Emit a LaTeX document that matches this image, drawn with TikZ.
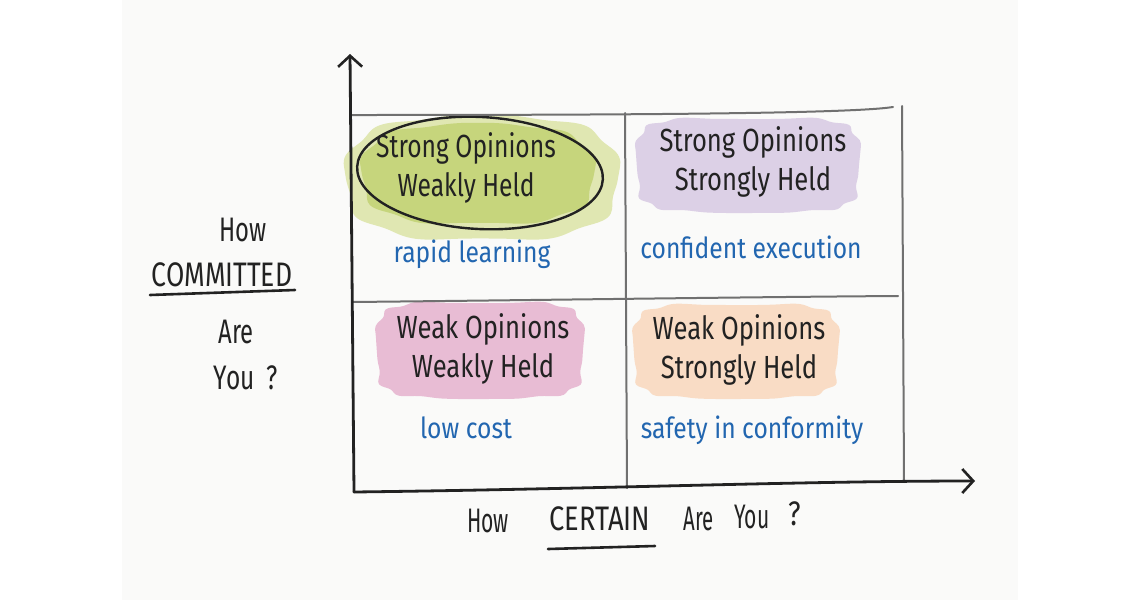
\documentclass[tikz,border=0pt]{standalone}
\usepackage{fontspec}
\setmainfont{Fira Sans}
\usepackage{graphicx}
\usetikzlibrary{arrows.meta}
\definecolor{paper}{HTML}{FAFAF9}
\definecolor{ink}{HTML}{222222}
\definecolor{bluetxt}{HTML}{2266B0}
\definecolor{gridgray}{HTML}{707070}
\definecolor{greencore}{HTML}{C6D57C}
\definecolor{greenhalo}{HTML}{E0E7B2}
\definecolor{purpleblob}{HTML}{DCD0E6}
\definecolor{pinkblob}{HTML}{E8BCD4}
\definecolor{peachblob}{HTML}{F9DCC5}
\newcommand{\hwtxt}[2]{\scalebox{#1}[1]{\begin{tabular}{@{}c@{}}#2\end{tabular}}}
\newcommand{\blobshape}{plot[domain=0:358, samples=90, smooth cycle] ({(1+0.022*sin(11*\x))*sign(cos(\x))*pow(abs(cos(\x)),0.42)}, {(1+0.022*sin(11*\x))*sign(sin(\x))*pow(abs(sin(\x)),0.42)})}
\newcommand{\roundblob}{plot[domain=0:358, samples=90, smooth cycle] ({(1+0.025*sin(9*\x))*sign(cos(\x))*pow(abs(cos(\x)),0.7)}, {(1+0.025*sin(9*\x))*sign(sin(\x))*pow(abs(sin(\x)),0.7)})}
\begin{document}
\begin{tikzpicture}[x=1pt,y=-1pt,
  axis/.style={line width=2.8pt, draw=ink, line cap=round, line join=round},
  gridline/.style={line width=2pt, draw=gridgray, line cap=round},
  arrowtip/.style={-{Straight Barb[length=11pt,width=24pt,line width=2.6pt]}},
  blobtxt/.style={text=ink, font=\fontsize{32}{39}\selectfont, inner sep=0pt},
  bluelbl/.style={text=bluetxt, font=\fontsize{29}{34}\selectfont, inner sep=0pt},
  axlbl/.style={text=ink, font=\fontsize{34}{40}\selectfont, inner sep=0pt},
  underline/.style={line width=2.6pt, draw=ink, line cap=round}
]
\useasboundingbox (0,0) rectangle (1140,600);
\fill[paper] (122,0) rectangle (1018,600);

% blobs
\begin{scope}[shift={(482,178)}, xscale=136, yscale=-62]
  \fill[greenhalo] \roundblob;
\end{scope}
\begin{scope}[shift={(478,174)}, xscale=116, yscale=-50]
  \fill[greencore] \roundblob;
\end{scope}
\begin{scope}[shift={(748,165)}, xscale=111, yscale=-47]
  \fill[purpleblob] \blobshape;
\end{scope}
\begin{scope}[shift={(480,350)}, xscale=103, yscale=-48]
  \fill[pinkblob] \blobshape;
\end{scope}
\begin{scope}[shift={(736,351)}, xscale=102, yscale=-47]
  \fill[peachblob] \blobshape;
\end{scope}
\draw[line width=2.4pt, draw=ink, rotate around={-3:(480,173)}] (480,173) ellipse [x radius=123pt, y radius=56pt];

% grid
\coordinate (tl) at (352,115);
\coordinate (tr) at (893,107);
\coordinate (rt) at (902,106);
\coordinate (rb) at (904,482);
\coordinate (mt) at (625,113);
\coordinate (mb) at (627,488);
\coordinate (ml) at (352,302);
\coordinate (mr) at (898,296);
\draw[gridline] (tl) .. controls (600,115) and (850,114) .. (tr);
\draw[gridline] (rt) -- (rb);
\draw[gridline] (mt) -- (mb);
\draw[gridline] (ml) .. controls (550,300) and (750,297) .. (mr);

% axes
\coordinate (O) at (354,492);
\coordinate (ytip) at (350,54);
\coordinate (xtip) at (975,481);
\draw[axis, arrowtip] (O) -- (ytip);
\draw[axis, arrowtip] (O) .. controls (600,489) and (800,481) .. (xtip);

% quadrant texts
\node[blobtxt] (q1) at (466,169) {\hwtxt{0.77}{Strong Opinions\\Weakly Held}};
\node[blobtxt] (q2) at (753,163) {\hwtxt{0.8}{Strong Opinions\\Strongly Held}};
\node[blobtxt] (q3) at (483,350) {\hwtxt{0.8}{Weak Opinions\\Weakly Held}};
\node[blobtxt] (q4) at (739,351) {\hwtxt{0.8}{Weak Opinions\\Strongly Held}};

\node[bluelbl] (l1) at (472,254) {\scalebox{0.85}[1]{rapid learning}};
\node[bluelbl] (l2) at (751,247) {\scalebox{0.85}[1]{confident execution}};
\node[bluelbl] (l3) at (466,428) {\scalebox{0.85}[1]{low cost}};
\node[bluelbl] (l4) at (752,430) {\scalebox{0.85}[1]{safety in conformity}};

% vertical axis label
\node[axlbl] (v1) at (243,230) {\scalebox{0.7}[1]{How}};
\node[axlbl] (v2) at (222,275) {\scalebox{0.78}[1]{COMMITTED}};
\node[axlbl] (v3) at (236,332) {\scalebox{0.7}[1]{Are}};
\node[axlbl] (v4) at (246,378) {\scalebox{0.72}[1]{You\enspace?}};
\coordinate (u1a) at (150,295);
\coordinate (u1b) at (295,290);
\draw[underline] (u1a) -- (u1b);

% horizontal axis label
\node[axlbl] (h1) at (488,521) {\scalebox{0.62}[1]{How}};
\node[axlbl] (h2) at (600,519) {\scalebox{0.8}[1]{CERTAIN}};
\node[axlbl] (h3) at (699,519) {\scalebox{0.6}[1]{Are}};
\node[axlbl] (h4) at (752,517) {\scalebox{0.62}[1]{You}};
\node[axlbl] (h5) at (795,514) {\scalebox{0.8}[1]{?}};
\coordinate (u2a) at (548,549);
\coordinate (u2b) at (655,546);
\draw[underline] (u2a) -- (u2b);
\end{tikzpicture}
\end{document}
